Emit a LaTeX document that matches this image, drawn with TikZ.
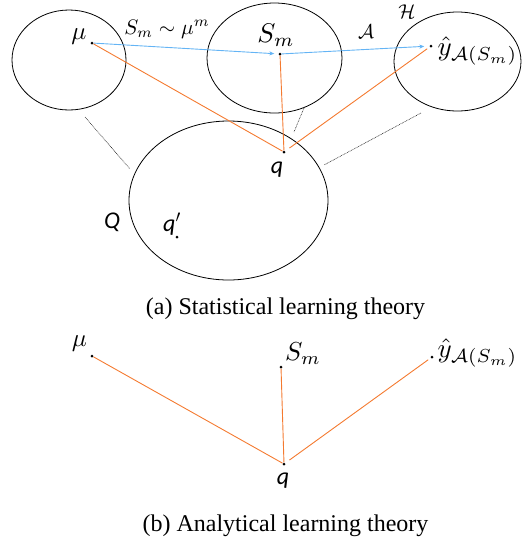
\documentclass[tikz,border=0pt]{standalone}
\usepackage{fontspec}
\setmainfont{Liberation Serif}
\newfontfamily\carl{Carlito}
\usetikzlibrary{shapes.geometric,arrows.meta}
\definecolor{lineblue}{HTML}{64B4F5}
\definecolor{lineorange}{HTML}{F47A30}
\begin{document}
\begin{tikzpicture}[x=1pt,y=-1pt,
  set/.style={draw, ellipse, line width=0.8pt, inner sep=0pt},
  pt/.style={circle, fill=black, inner sep=0pt, minimum size=3pt},
  rel/.style={draw=lineorange, line width=0.9pt},
  map/.style={draw=lineblue, line width=0.9pt, -{Stealth[length=5pt,width=4pt]}},
  proj/.style={draw=black!85, line width=0.6pt, dash pattern=on 0.8pt off 0.8pt},
  lbl/.style={inner sep=0pt},
  carlfont/.style={font=\carl\itshape\fontsize{24}{28}\selectfont},
]
\useasboundingbox (0,0) rectangle (529,542);

% ---- (a) sets ----
\node[set, minimum width=114pt, minimum height=100pt] (E1) at (69,60) {};
\node[set, minimum width=135pt, minimum height=110pt] (E2) at (274.5,58) {};
\node[set, minimum width=127pt, minimum height=99pt] (E3) at (457.5,61.5) {};
\node[set, minimum width=199pt, minimum height=159pt] (EQ) at (228.5,200.5) {};

% projection lines
\coordinate (p1a) at (85,117);  \coordinate (p1b) at (130,169);
\coordinate (p2a) at (304,108); \coordinate (p2b) at (294,132);
\coordinate (p3a) at (421,113); \coordinate (p3b) at (324,165);
\draw[proj] (p1a) -- (p1b);
\draw[proj] (p2a) -- (p2b);
\draw[proj] (p3a) -- (p3b);

% points
\node[pt] (mu) at (92,43) {};
\node[pt] (sm) at (280,54) {};
\node[pt] (yh) at (431,46) {};
\node[pt] (q) at (284,152) {};
\node[pt] (qp) at (177,237) {};

% connectors
\draw[map, shorten >=4pt] (mu) -- (sm);
\draw[map, shorten >=5pt] (sm) -- (yh);
\draw[rel] (mu) -- (q);
\draw[rel] (sm) -- (q);
\draw[rel, shorten <=3pt, shorten >=5pt] (yh) -- (q);

% labels
\node[lbl, scale=2.5] (lmu) at (79,37) {$\mu$};
\node[lbl, scale=2.7] (lsm) at (276,35) {$S_m$};
\node[lbl, scale=2.1] (lsample) at (167,29) {$S_m \sim \mu^m$};
\node[lbl, scale=2.0] (lA) at (366,32) {$\mathcal{A}$};
\node[lbl, scale=2.0] (lH) at (407,12) {$\mathcal{H}$};
\node[lbl, anchor=west, scale=2.7] (lyh) at (437,51) {$\hat{y}_{\mathcal{A}(S_m)}$};
\node[lbl, carlfont] (lq) at (277,170) {q};
\node[lbl, carlfont] (lQ) at (112,222) {Q};
\node[lbl, carlfont] (lqp) at (172,224) {q$'$};

\node[lbl, font=\fontsize{24}{28}\selectfont] (capa) at (285.5,309) {(a) Statistical learning theory};

% ---- (b) ----
\node[pt] (mub) at (92,356) {};
\node[pt] (smb) at (281,367) {};
\node[pt] (yhb) at (432,357) {};
\node[pt] (qb) at (284,464) {};

\draw[rel] (mub) -- (qb);
\draw[rel] (smb) -- (qb);
\draw[rel, shorten <=3pt, shorten >=5pt] (yhb) -- (qb);

\node[lbl, scale=2.5] (lmub) at (79.5,344) {$\mu$};
\node[lbl, scale=2.6] (lsmb) at (303,354) {$S_m$};
\node[lbl, anchor=west, scale=2.7] (lyhb) at (437,353) {$\hat{y}_{\mathcal{A}(S_m)}$};
\node[lbl, carlfont] (lqb) at (283,481) {q};

\node[lbl, font=\fontsize{24}{28}\selectfont] (capb) at (285.5,526) {(b) Analytical learning theory};
\end{tikzpicture}
\end{document}
